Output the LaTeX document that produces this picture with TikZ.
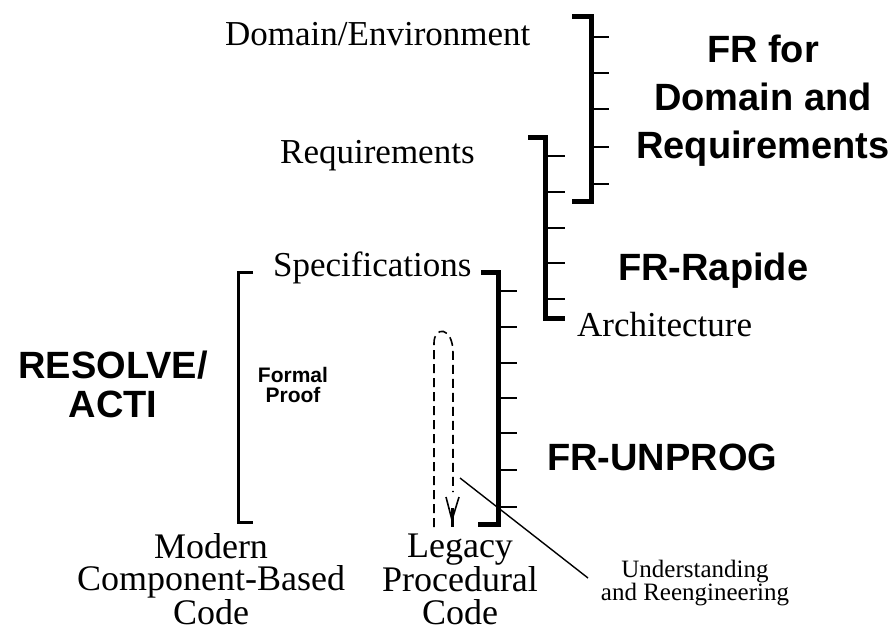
\documentclass[tikz,border=0pt]{standalone}
\usepackage{fontspec}
\setmainfont{Liberation Serif}
\setsansfont{Liberation Sans}
\begin{document}
\begin{tikzpicture}[x=1pt,y=-1pt,
  serif/.style={font=\fontsize{35}{40}\selectfont, inner sep=0pt},
  codes/.style={font=\fontsize{36}{32.5}\selectfont, inner sep=0pt, align=center, anchor=north},
  label/.style={font=\fontsize{38}{48}\sffamily\bfseries\selectfont, inner sep=0pt},
  smalllabel/.style={font=\fontsize{21}{20}\sffamily\bfseries\selectfont, inner sep=0pt, align=center, anchor=north},
  note/.style={font=\fontsize{25}{23}\selectfont, inner sep=0pt, align=center, anchor=north},
  bar/.style={line width=5pt},
  thinbar/.style={line width=3pt},
  tick/.style={line width=2.2pt},
  flow/.style={line width=1.6pt, dash pattern=on 9pt off 5pt}]
\useasboundingbox (0,0) rectangle (896,640);

% level names
\node[serif, anchor=base west] (dom) at (225,45) {Domain/Environment};
\node[serif, anchor=base west] (req) at (280,163) {Requirements};
\node[serif, anchor=base west] (spec) at (273,276) {Specifications};
\node[serif, anchor=base west] (arch) at (577,336) {Architecture};

% tool names
\node[label, align=center, anchor=north] (frdr) at (763,34.5) {FR for\\Domain and\\Requirements};
\node[label, anchor=base west] (rapide) at (618,280) {FR-Rapide};
\node[label, anchor=base west] (unprog) at (547,470) {FR-UNPROG};
\node[label, align=center, anchor=north, font=\fontsize{38}{39}\sffamily\bfseries\selectfont] (resolve) at (113,351) {RESOLVE/\\ACTI};
\node[smalllabel] (proof) at (293,367) {Formal\\Proof};

% code kinds
\node[codes] (modern) at (211,533) {Modern\\Component-Based\\Code};
\node[codes] (legacy) at (460,534) {Legacy\\Procedural\\Code};
\node[note] (under) at (695,560) {Understanding\\and Reengineering};

% FR for Domain and Requirements bracket
\draw[bar] (572,16) -- (591,16) -- (591,201) -- (572,201);
\foreach \y in {37,73,109,147,184} \draw[tick] (591,\y) -- (609,\y);

% FR-Rapide bracket
\draw[bar] (528,137) -- (545,137) -- (545,318) -- (565,318);
\foreach \y in {156,192,228,263,299} \draw[tick] (545,\y) -- (565,\y);

% FR-UNPROG bracket
\draw[bar] (481,272) -- (498,272) -- (498,524) -- (478,524);
\foreach \y in {291,327,363,398,433,470,507} \draw[tick] (498,\y) -- (517,\y);

% RESOLVE/ACTI bracket
\draw[thinbar] (253,272) -- (238,272) -- (238,522) -- (253,522);

% understanding and reengineering loop
\coordinate (loopstart) at (434,527);
\coordinate (looptip) at (452,520);
\draw[flow] (loopstart) -- (434,343) .. controls (434,326) and (453,326) .. (453,353) -- (453,492);
\draw[line width=1.6pt] (446,497) -- (looptip) -- (459,497);
\draw[line width=3pt] (452,508) -- (452,527);

% leader to the note
\coordinate (leadA) at (460,478);
\coordinate (leadB) at (588,578);
\draw[line width=1.4pt] (leadA) -- (leadB);
\end{tikzpicture}
\end{document}
